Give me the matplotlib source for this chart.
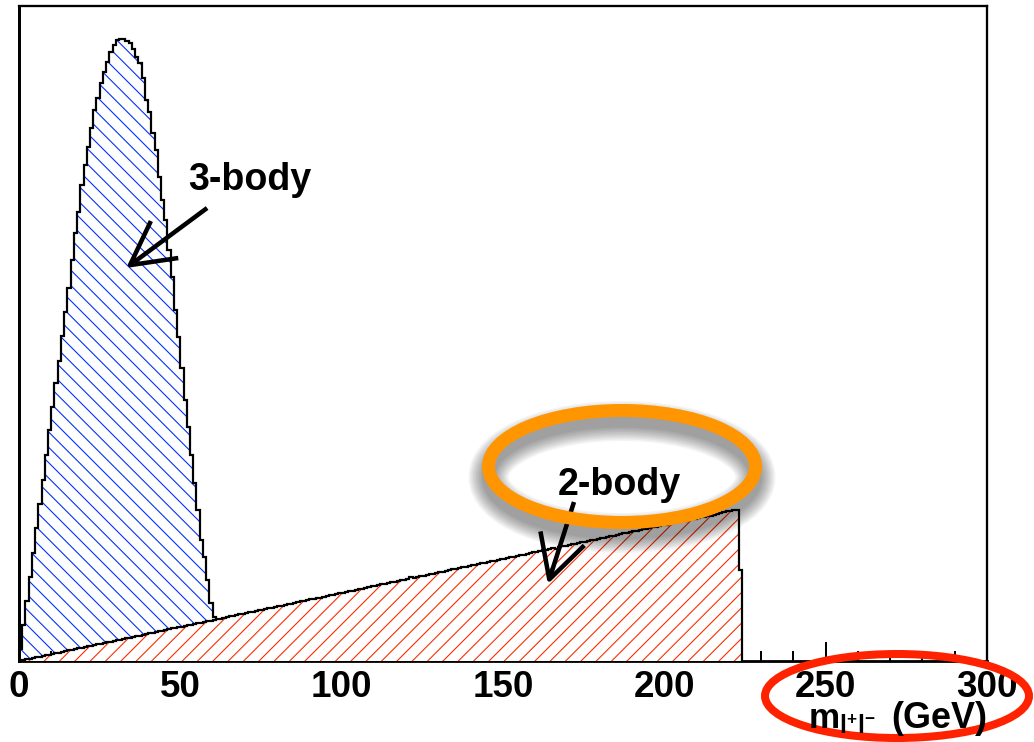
import matplotlib
matplotlib.use('Agg')
import matplotlib.pyplot as plt
import numpy as np
from matplotlib.patches import Ellipse
from matplotlib.ticker import MultipleLocator

DPI = 92
PT = 72 / DPI  # points per pixel at this dpi

# m_ll histograms, 1 GeV bins starting at 0 (arbitrary units)
three_body = [12, 36, 60, 84, 108, 133, 157, 181, 206, 231,
              254, 278, 300, 325, 349, 373, 401, 428, 449, 476,
              496, 514, 533, 551, 563, 578, 589, 599, 609, 616,
              621, 622, 622, 620, 618, 612, 604, 598, 583, 561,
              549, 528, 511, 484, 461, 441, 411, 384, 351, 324,
              293, 261, 234, 206, 178, 151, 121, 104, 81, 58,
              44, 30, 15]
two_body = [0, 1, 2, 2, 3, 4, 4, 5, 6, 6,
            7, 8, 8, 9, 10, 11, 11, 12, 13, 13,
            14, 15, 15, 16, 17, 17, 18, 19, 19, 20,
            21, 21, 22, 23, 23, 24, 25, 25, 26, 27,
            28, 28, 29, 30, 30, 31, 32, 33, 33, 34,
            34, 35, 36, 36, 37, 38, 38, 39, 40, 40,
            41, 42, 42, 43, 44, 45, 45, 46, 47, 47,
            48, 49, 49, 50, 51, 51, 52, 53, 53, 54,
            55, 55, 56, 57, 57, 58, 59, 60, 60, 61,
            62, 62, 63, 63, 64, 65, 66, 66, 67, 68,
            68, 69, 70, 70, 71, 72, 72, 73, 74, 75,
            75, 76, 77, 77, 78, 79, 79, 80, 81, 81,
            82, 84, 83, 84, 85, 85, 86, 87, 87, 88,
            89, 89, 90, 91, 92, 92, 93, 94, 94, 95,
            96, 96, 97, 98, 98, 99, 100, 100, 101, 102,
            102, 103, 104, 104, 105, 106, 106, 107, 108, 109,
            109, 110, 111, 111, 112, 113, 112, 114, 115, 115,
            116, 117, 117, 118, 119, 119, 120, 121, 121, 122,
            123, 123, 124, 125, 125, 126, 127, 128, 128, 129,
            130, 130, 131, 132, 132, 133, 134, 134, 135, 136,
            136, 137, 138, 139, 139, 140, 140, 141, 142, 142,
            143, 144, 144, 145, 145, 146, 147, 148, 149, 150,
            150, 151, 151, 91]
three_edges = np.arange(len(three_body) + 1)
two_edges = np.arange(len(two_body) + 1)

major_ticks = [0, 50, 100, 150, 200, 250, 300]

blue = '#0030ff'
red = '#ff2a00'

plt.rcParams['font.family'] = ['Liberation Sans', 'DejaVu Sans']
plt.rcParams['font.weight'] = 'bold'
plt.rcParams['mathtext.fontset'] = 'custom'
plt.rcParams['mathtext.rm'] = 'Liberation Sans:bold'
plt.rcParams['mathtext.bf'] = 'Liberation Sans:bold'
plt.rcParams['mathtext.it'] = 'Liberation Sans:bold'
plt.rcParams['mathtext.default'] = 'bf'
plt.rcParams['hatch.linewidth'] = 1.1 * PT

fig = plt.figure(figsize=(1034 / DPI, 743 / DPI), dpi=DPI)
fig.patch.set_facecolor('white')
ax = fig.add_axes([19 / 1034, 81.5 / 743, 968 / 1034, 655 / 743])

# 3-body: hatch then outline
ax.stairs(three_body, three_edges, fill=True, facecolor='white', edgecolor=blue,
          hatch='\\\\', linewidth=0, zorder=1)
ax.stairs(three_body, three_edges, color='black', linewidth=2.2 * PT, zorder=2)
# 2-body drawn on top with a white fill
ax.stairs(two_body, two_edges, fill=True, facecolor='white', edgecolor=red,
          hatch='//', linewidth=0, zorder=3)
ax.stairs(two_body, two_edges, color='black', linewidth=2.2 * PT, zorder=4)

ax.set_xlim(0, 300)
ax.set_ylim(0, 655)
ax.set_yticks([])
ax.set_xticks(major_ticks)
ax.xaxis.set_minor_locator(MultipleLocator(10))
ax.tick_params(axis='x', which='major', direction='in', length=19 * PT, width=2 * PT,
               pad=8.3 * PT, labelsize=36.7 * PT, top=False)
ax.tick_params(axis='x', which='minor', direction='in', length=10 * PT, width=2 * PT,
               top=False)
for lab in ax.get_xticklabels():
    lab.set_fontweight('bold')
ax.spines['left'].set_linewidth(3 * PT)
ax.spines['bottom'].set_linewidth(2.8 * PT)
ax.spines['top'].set_linewidth(2.3 * PT)
ax.spines['right'].set_linewidth(2.3 * PT)

# annotations
arrow = dict(arrowstyle=f'->, head_length={43 * PT:.1f}, head_width={23 * PT:.1f}',
             mutation_scale=1, lw=4.5 * PT, color='black', shrinkA=0, shrinkB=0,
             capstyle='butt')
ax.text(71.6, 471.5, '3-body', ha='center', va='baseline', fontsize=37.6 * PT,
        fontweight='bold', zorder=6)
ax.annotate('', xy=(33.2, 392.5), xytext=(58.3, 452.5), arrowprops=arrow, zorder=6)
ax.text(186, 166.5, '2-body', ha='center', va='baseline', fontsize=37.6 * PT,
        fontweight='bold', zorder=6)
ax.annotate('', xy=(163.9, 76.5), xytext=(172.0, 158.5), arrowprops=arrow, zorder=6)

# overlay in figure pixels for the axis title and highlight ellipses
ov = fig.add_axes([0, 0, 1, 1], zorder=5)
ov.set_xlim(0, 1034)
ov.set_ylim(743, 0)
ov.axis('off')
ov.patch.set_alpha(0)

ov.text(987, 728, '(GeV)', ha='right', va='baseline', fontsize=36 * PT,
        fontweight='bold')
ov.text(876, 728, r'$m_{l^{+}l^{-}}$', ha='right', va='baseline', fontsize=35 * PT)

# soft drop shadow under the orange ring
for k in range(10):
    ov.add_patch(Ellipse((622, 478), 267, 112, fill=False, lw=(13 + 3 * k) * PT,
                         ec='black', alpha=0.042))
ov.add_patch(Ellipse((622, 467.5), 267, 112, fill=False, lw=13 * PT, ec='#ff9500'))
ov.add_patch(Ellipse((897, 697), 264, 84, fill=False, lw=8 * PT, ec='#ff2200'))

fig.savefig('out.png', dpi=DPI)
